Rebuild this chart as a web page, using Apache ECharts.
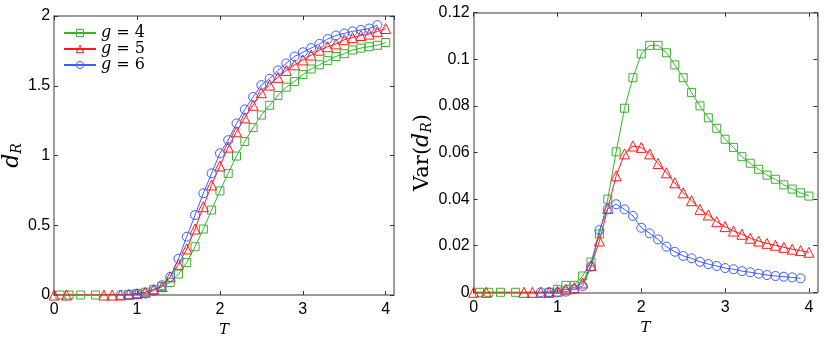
<!DOCTYPE html>
<html>
<head>
<meta charset="utf-8">
<script src="https://cdn.jsdelivr.net/npm/echarts@6/dist/echarts.min.js"></script>
<style>
  html, body { margin: 0; padding: 0; background: #fff; }
  #chart { width: 830px; height: 343px; }
</style>
</head>
<body>
<div id="chart"></div>
<script>
// temperatures at which each g was sampled
var tempG4 = [0.07, 0.18, 0.32, 0.5, 0.9, 1.0, 1.1, 1.2, 1.3, 1.4, 1.5, 1.6, 1.7, 1.8, 1.9, 2.0,
  2.1, 2.2, 2.3, 2.4, 2.5, 2.6, 2.7, 2.8, 2.9, 3.0, 3.1, 3.2, 3.3, 3.4, 3.5, 3.6, 3.7, 3.8, 3.9, 4.0];
var tempG5 = [0, 0.15, 0.6, 0.7, 0.8, 0.9, 1.0, 1.1, 1.2, 1.3, 1.4, 1.5, 1.6, 1.7, 1.8, 1.9, 2.0,
  2.1, 2.2, 2.3, 2.4, 2.5, 2.6, 2.7, 2.8, 2.9, 3.0, 3.1, 3.2, 3.3, 3.4, 3.5, 3.6, 3.7, 3.8, 3.9, 4.0];
var tempG6 = [0.8, 0.9, 1.0, 1.1, 1.2, 1.3, 1.4, 1.5, 1.6, 1.7, 1.8, 1.9, 2.0,
  2.1, 2.2, 2.3, 2.4, 2.5, 2.6, 2.7, 2.8, 2.9, 3.0, 3.1, 3.2, 3.3, 3.4, 3.5, 3.6, 3.7, 3.8, 3.9];

// left panel: d_R
var dR_g4 = [0, 0, 0, 0, 0.005, 0.01, 0.02, 0.04, 0.06, 0.09, 0.15, 0.232, 0.346, 0.473, 0.609, 0.746,
  0.872, 0.996, 1.10, 1.20, 1.29, 1.36, 1.43, 1.49, 1.53, 1.58, 1.62, 1.65, 1.68, 1.71, 1.73, 1.756, 1.77, 1.78, 1.79, 1.81];
var dR_g5 = [0, 0, 0, 0, 0, 0.005, 0.01, 0.02, 0.04, 0.06, 0.13, 0.22, 0.33, 0.473, 0.633, 0.789, 0.925,
  1.06, 1.17, 1.27, 1.36, 1.45, 1.505, 1.56, 1.61, 1.65, 1.685, 1.72, 1.755, 1.78, 1.80, 1.83, 1.845, 1.86, 1.87, 1.89, 1.91];
var dR_g6 = [0, 0, 0.005, 0.01, 0.03, 0.07, 0.13, 0.26, 0.418, 0.573, 0.729, 0.872, 1.016,
  1.11, 1.23, 1.33, 1.42, 1.505, 1.55, 1.61, 1.66, 1.71, 1.74, 1.77, 1.80, 1.835, 1.86, 1.875, 1.89, 1.90, 1.91, 1.935];

// right panel: Var(d_R)
var var_g4 = [0, 0, 0, 0, 0, 0.0013, 0.003, 0.003, 0.007, 0.013, 0.025, 0.040, 0.0603, 0.079, 0.0921, 0.1023,
  0.106, 0.106, 0.1028, 0.0976, 0.0921, 0.0857, 0.080, 0.0749, 0.0704, 0.0657, 0.0622, 0.0582, 0.0554, 0.0528,
  0.0503, 0.0485, 0.0461, 0.0443, 0.0427, 0.0413];
var var_g5 = [0, 0, 0, 0, 0, 0, 0.0005, 0.0013, 0.002, 0.004, 0.0115, 0.022, 0.036, 0.050, 0.0594, 0.0628, 0.0622,
  0.0594, 0.0553, 0.0513, 0.047, 0.0427, 0.0393, 0.0356, 0.0332, 0.0303, 0.0282, 0.0263, 0.0249, 0.0232, 0.022,
  0.021, 0.0202, 0.0193, 0.0185, 0.0179, 0.0172];
var var_g6 = [0, 0, 0, 0.0003, 0.0013, 0.0027, 0.011, 0.0267, 0.0358, 0.0378, 0.0356, 0.0328, 0.0277,
  0.0253, 0.0227, 0.0196, 0.0174, 0.0156, 0.0146, 0.0131, 0.0121, 0.0113, 0.0104, 0.0099, 0.0091, 0.0086,
  0.0080, 0.0074, 0.0070, 0.0067, 0.0064, 0.0060];

var seriesNames = ['g = 4', 'g = 5', 'g = 6'];

var GREEN = '#3bb02f', RED = '#ff1a1a', BLUE = '#3d5cff';
var FRAME = '#7a7a7a';
var SANS = '"Liberation Sans", Arial, sans-serif';
var SERIF = '"DejaVu Serif", "Liberation Serif", serif';

function pairs(xs, ys) {
  return xs.map(function(x, i) { return [x, ys[i]]; });
}

function lineSeries(name, xIdx, yIdx, xs, ys, color, symbol, size) {
  return {
    type: 'line', name: name,
    xAxisIndex: xIdx, yAxisIndex: yIdx,
    data: pairs(xs, ys),
    symbol: symbol, symbolSize: size,
    showAllSymbol: true,
    lineStyle: { color: color, width: 1 },
    itemStyle: { color: 'rgba(255,255,255,0)', borderColor: color, borderWidth: 1 },
    emphasis: { disabled: true },
    z: 3
  };
}

// bottom / left axes carry labels, top / right just mirror the ticks
function xAxis(grid, show) {
  return {
    type: 'value', gridIndex: grid, min: 0, max: 4.1, interval: 1,
    position: show ? 'bottom' : 'top',
    name: show ? 'T' : '', nameLocation: 'middle', nameGap: 23,
    nameTextStyle: { fontFamily: SERIF, fontStyle: 'italic', fontSize: 15, color: '#000' },
    axisLine: { show: true, onZero: false, lineStyle: { color: FRAME, width: 1.5 } },
    axisTick: { show: true, inside: true, length: 4, lineStyle: { color: '#333', width: 1 } },
    axisLabel: { show: show, showMaxLabel: false, margin: 7, fontFamily: SANS, fontSize: 16, color: '#000' },
    splitLine: { show: false }
  };
}

function yAxis(grid, max, step, show, nameText, gap) {
  return {
    type: 'value', gridIndex: grid, min: 0, max: max, interval: step,
    position: show ? 'left' : 'right',
    name: show ? nameText : '', nameLocation: 'middle', nameRotate: 90, nameGap: gap,
    nameTextStyle: {
      color: '#000',
      rich: {
        r: { fontFamily: SERIF, fontSize: 21, color: '#000' },
        d: { fontFamily: SERIF, fontStyle: 'italic', fontSize: 22, color: '#000' },
        s: { fontFamily: SERIF, fontStyle: 'italic', fontSize: 14, color: '#000', padding: [10, 0, 0, 0] }
      }
    },
    axisLine: { show: true, onZero: false, lineStyle: { color: FRAME, width: 1.5 } },
    axisTick: { show: true, inside: true, length: 4, lineStyle: { color: '#333', width: 1 } },
    axisLabel: { show: show, margin: 4, fontFamily: SANS, fontSize: 16, color: '#000' },
    splitLine: { show: false }
  };
}

var chart = echarts.init(document.getElementById('chart'), null, { renderer: 'canvas' });

chart.setOption({
  animation: false,
  backgroundColor: '#fff',
  grid: [
    { left: 49.5, right: 436, top: 16, bottom: 48 },
    { left: 473.7, right: 12.7, top: 12.7, bottom: 50.7 }
  ],
  legend: {
    data: seriesNames,
    orient: 'vertical',
    left: 58, top: 20,
    itemWidth: 32, itemHeight: 9, itemGap: 0,
    selectedMode: false,
    itemStyle: { color: 'rgba(255,255,255,0)', borderWidth: 1 },
    formatter: function(name) { return '{i|g}' + name.slice(1); },
    textStyle: {
      fontFamily: SERIF, fontSize: 16, color: '#000',
      rich: { i: { fontFamily: SERIF, fontStyle: 'italic', fontSize: 16, color: '#000' } }
    }
  },
  xAxis: [xAxis(0, true), xAxis(0, false), xAxis(1, true), xAxis(1, false)],
  yAxis: [
    yAxis(0, 2, 0.5, true, '{d|d}{s|R}', 19),
    yAxis(0, 2, 0.5, false, '', 0),
    yAxis(1, 0.12, 0.02, true, '{r|Var(}{d|d}{s|R}{r|)}', 39),
    yAxis(1, 0.12, 0.02, false, '', 0)
  ],
  series: [
    lineSeries(seriesNames[0], 0, 0, tempG4, dR_g4, GREEN, 'rect', 8),
    lineSeries(seriesNames[1], 0, 0, tempG5, dR_g5, RED, 'triangle', 10),
    lineSeries(seriesNames[2], 0, 0, tempG6, dR_g6, BLUE, 'circle', 9),
    lineSeries(seriesNames[0], 2, 2, tempG4, var_g4, GREEN, 'rect', 8),
    lineSeries(seriesNames[1], 2, 2, tempG5, var_g5, RED, 'triangle', 10),
    lineSeries(seriesNames[2], 2, 2, tempG6, var_g6, BLUE, 'circle', 9)
  ]
});
</script>
</body>
</html>
